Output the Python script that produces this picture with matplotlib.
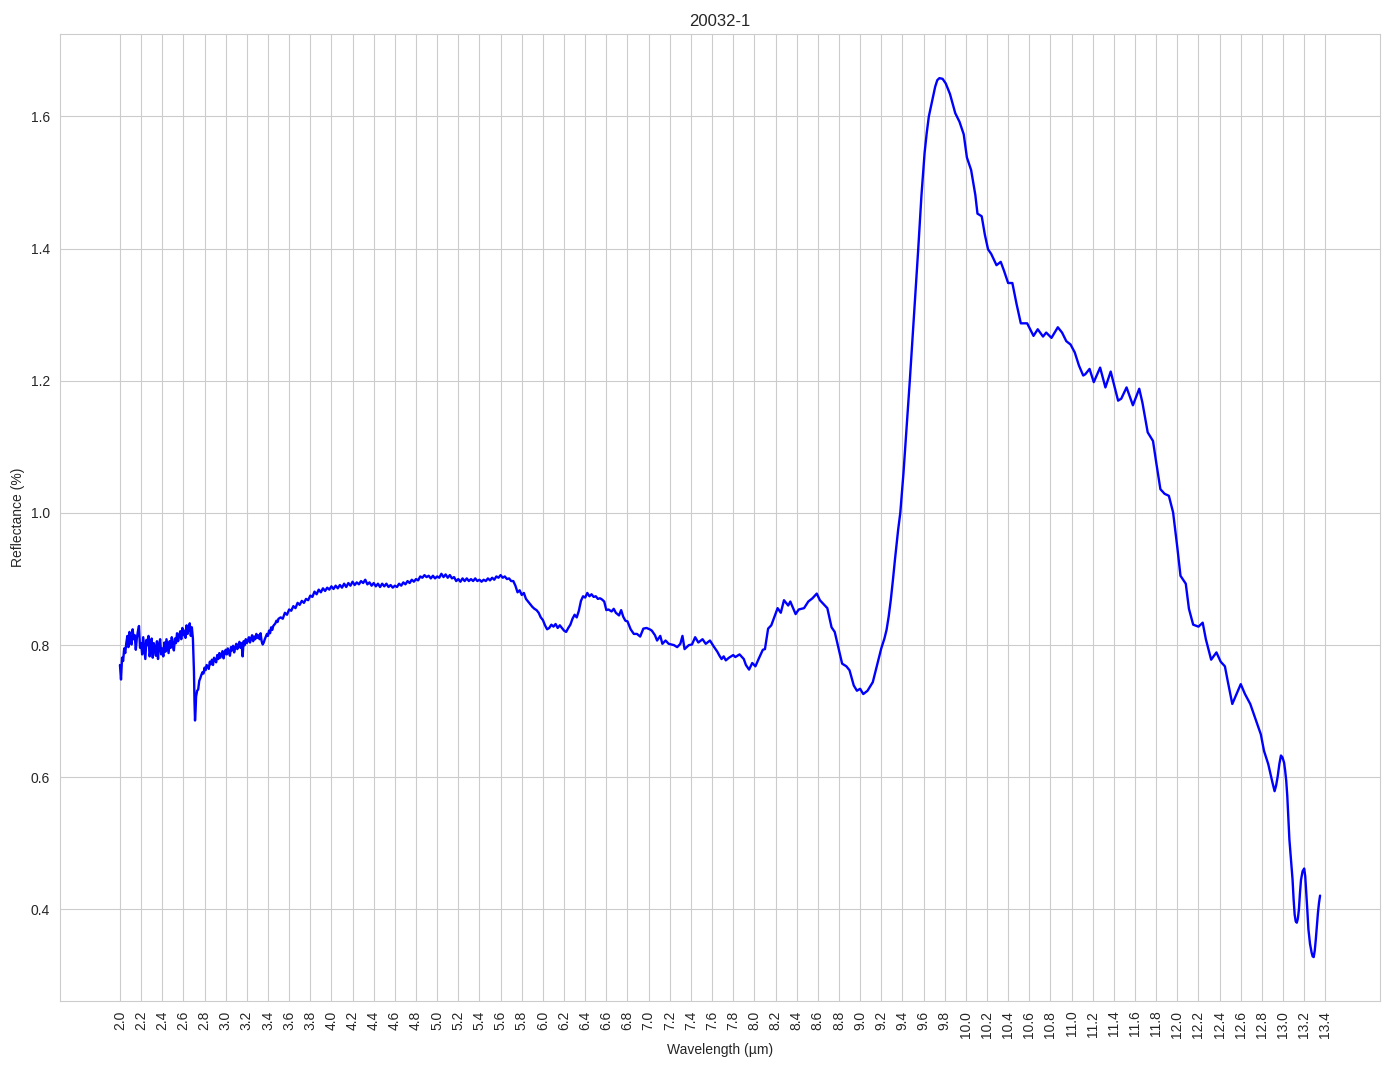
import numpy as np
import matplotlib
matplotlib.use("Agg")
import matplotlib.pyplot as plt
import seaborn as sns

# ---------------- data ----------------
title = "20032-1"
x_label = "Wavelength (µm)"
y_label = "Reflectance (%)"

# noisy part 2.00 - 2.70 µm, sampled every 0.01 µm
seg1_start, seg1_step = 2.00, 0.01
seg1_refl = [
    0.770, 0.748, 0.781, 0.776, 0.795, 0.788, 0.803, 0.814, 0.797, 0.820,
    0.806, 0.801, 0.824, 0.809, 0.815, 0.793, 0.811, 0.821, 0.829, 0.796,
    0.803, 0.786, 0.812, 0.795, 0.779, 0.808, 0.800, 0.814, 0.783, 0.792,
    0.810, 0.781, 0.803, 0.797, 0.784, 0.806, 0.779, 0.800, 0.809, 0.786,
    0.795, 0.783, 0.804, 0.790, 0.809, 0.799, 0.788, 0.806, 0.796, 0.812,
    0.800, 0.792, 0.810, 0.803, 0.818, 0.806, 0.814, 0.821, 0.809, 0.826,
    0.815, 0.822, 0.811, 0.830, 0.817, 0.826, 0.833, 0.814, 0.827, 0.810,
    0.760,
]

# absorption dip
seg2_wl = [2.705, 2.71, 2.715]
seg2_refl = [0.715, 0.686, 0.700]

# 2.72 - 3.50 µm, sampled every 0.01 µm
seg3_start, seg3_step = 2.72, 0.01
seg3_refl = [
    0.722, 0.731, 0.733, 0.746, 0.750, 0.755, 0.759, 0.757, 0.766, 0.762,
    0.770, 0.767, 0.764, 0.775, 0.771, 0.778, 0.770, 0.781, 0.777, 0.774,
    0.785, 0.779, 0.788, 0.781, 0.786, 0.791, 0.780, 0.789, 0.793, 0.786,
    0.795, 0.790, 0.784, 0.797, 0.792, 0.799, 0.789, 0.796, 0.802, 0.794,
    0.800, 0.805, 0.796, 0.803, 0.783, 0.806, 0.800, 0.809, 0.803, 0.807,
    0.812, 0.804, 0.810, 0.815, 0.806, 0.813, 0.809, 0.817, 0.811, 0.815,
    0.809, 0.818, 0.806, 0.801, 0.804, 0.809, 0.813, 0.817, 0.814, 0.822,
    0.818, 0.827, 0.823, 0.829, 0.831, 0.833, 0.837, 0.835, 0.840,
]

# 3.52 - 6.60 µm, sampled every 0.02 µm
seg4_start, seg4_step = 3.52, 0.02
seg4_refl = [
    0.842, 0.840, 0.849, 0.846, 0.854, 0.852, 0.859, 0.856, 0.864, 0.861,
    0.867, 0.864, 0.870, 0.868, 0.875, 0.873, 0.881, 0.877, 0.884, 0.880,
    0.886, 0.882, 0.887, 0.884, 0.889, 0.885, 0.890, 0.886, 0.891, 0.887,
    0.893, 0.888, 0.894, 0.890, 0.896, 0.891, 0.895, 0.892, 0.897, 0.894,
    0.899, 0.892, 0.895, 0.890, 0.894, 0.889, 0.893, 0.888, 0.893, 0.889,
    0.893, 0.888, 0.891, 0.887, 0.890, 0.888, 0.893, 0.890, 0.895, 0.892,
    0.897, 0.894, 0.899, 0.896, 0.900, 0.898, 0.904, 0.902, 0.906, 0.903,
    0.905, 0.901, 0.905, 0.901, 0.904, 0.902, 0.908, 0.903, 0.907, 0.902,
    0.906, 0.901, 0.903, 0.897, 0.900, 0.896, 0.901, 0.897, 0.901, 0.897,
    0.900, 0.897, 0.901, 0.897, 0.899, 0.896, 0.899, 0.897, 0.901, 0.898,
    0.902, 0.899, 0.904, 0.902, 0.906, 0.902, 0.904, 0.900, 0.901, 0.897,
    0.897, 0.890, 0.880, 0.883, 0.876, 0.879, 0.870, 0.866, 0.862, 0.858,
    0.855, 0.853, 0.849, 0.842, 0.838, 0.830, 0.824, 0.826, 0.831, 0.828,
    0.832, 0.826, 0.830, 0.826, 0.822, 0.820, 0.826, 0.831, 0.840, 0.846,
    0.842, 0.852, 0.867, 0.874, 0.872, 0.879, 0.874, 0.877, 0.873, 0.874,
    0.870, 0.871, 0.869, 0.866, 0.853,
]

# smoother part 6.62 - 13.35 µm
seg5_wl = [
    6.62, 6.65, 6.67, 6.69, 6.72, 6.74, 6.76, 6.78, 6.80, 6.83,
    6.86, 6.89, 6.92, 6.95, 6.98, 7.01, 7.03, 7.06, 7.08, 7.11,
    7.13, 7.16, 7.19, 7.24, 7.27, 7.30, 7.32, 7.34, 7.38, 7.41,
    7.44, 7.47, 7.51, 7.54, 7.58, 7.62, 7.65, 7.67, 7.69, 7.71,
    7.73, 7.76, 7.80, 7.82, 7.86, 7.90, 7.92, 7.95, 7.98, 8.01,
    8.04, 8.08, 8.10, 8.13, 8.16, 8.22, 8.25, 8.28, 8.32, 8.34,
    8.39, 8.42, 8.47, 8.51, 8.55, 8.59, 8.62, 8.69, 8.73, 8.76,
    8.83, 8.87, 8.90, 8.94, 8.97, 9.00, 9.03, 9.07, 9.12, 9.17,
    9.20, 9.23, 9.25, 9.27, 9.29, 9.31, 9.33, 9.36, 9.38, 9.41,
    9.44, 9.47, 9.51, 9.55, 9.58, 9.61, 9.63, 9.65, 9.67, 9.69,
    9.71, 9.73, 9.75, 9.78, 9.81, 9.85, 9.90, 9.94, 9.98, 10.01,
    10.05, 10.09, 10.11, 10.15, 10.18, 10.21, 10.24, 10.29, 10.33, 10.36,
    10.40, 10.44, 10.48, 10.52, 10.58, 10.64, 10.68, 10.73, 10.76, 10.81,
    10.87, 10.91, 10.95, 10.99, 11.03, 11.07, 11.11, 11.13, 11.17, 11.21,
    11.27, 11.32, 11.37, 11.44, 11.47, 11.52, 11.58, 11.64, 11.67, 11.72,
    11.77, 11.80, 11.84, 11.88, 11.92, 11.96, 12.00, 12.03, 12.08, 12.11,
    12.15, 12.20, 12.24, 12.27, 12.32, 12.37, 12.41, 12.45, 12.48, 12.52,
    12.56, 12.60, 12.64, 12.69, 12.74, 12.79, 12.82, 12.86, 12.90, 12.92,
    12.935, 12.95, 12.965, 12.98, 12.995, 13.01, 13.02, 13.03, 13.04, 13.05,
    13.06, 13.08, 13.09, 13.10, 13.11, 13.12, 13.13, 13.14, 13.15, 13.16,
    13.17, 13.185, 13.20, 13.21, 13.22, 13.23, 13.24, 13.255, 13.27, 13.28,
    13.29, 13.30, 13.31, 13.32, 13.33, 13.34, 13.35,
]
seg5_refl = [
    0.854, 0.851, 0.855, 0.849, 0.845, 0.853, 0.843, 0.837, 0.836, 0.824,
    0.817, 0.817, 0.813, 0.825, 0.826, 0.824, 0.822, 0.815, 0.807, 0.814,
    0.802, 0.807, 0.802, 0.800, 0.797, 0.802, 0.814, 0.794, 0.800, 0.801,
    0.812, 0.804, 0.809, 0.802, 0.807, 0.797, 0.790, 0.784, 0.779, 0.783,
    0.777, 0.781, 0.785, 0.782, 0.786, 0.779, 0.770, 0.763, 0.773, 0.768,
    0.779, 0.793, 0.794, 0.825, 0.830, 0.856, 0.849, 0.868, 0.860, 0.866,
    0.847, 0.854, 0.856, 0.866, 0.871, 0.878, 0.868, 0.856, 0.827, 0.820,
    0.772, 0.768, 0.762, 0.739, 0.731, 0.734, 0.726, 0.731, 0.744, 0.776,
    0.795, 0.810, 0.823, 0.843, 0.868, 0.898, 0.930, 0.975, 1.000, 1.060,
    1.130, 1.200, 1.300, 1.400, 1.480, 1.545, 1.575, 1.600, 1.615, 1.630,
    1.645, 1.655, 1.658, 1.657, 1.650, 1.634, 1.605, 1.592, 1.573, 1.538,
    1.519, 1.481, 1.453, 1.449, 1.421, 1.399, 1.392, 1.375, 1.380, 1.367,
    1.348, 1.348, 1.316, 1.287, 1.287, 1.268, 1.278, 1.267, 1.273, 1.265,
    1.281, 1.273, 1.260, 1.255, 1.243, 1.223, 1.208, 1.210, 1.218, 1.198,
    1.220, 1.190, 1.214, 1.170, 1.173, 1.190, 1.163, 1.188, 1.167, 1.122,
    1.109, 1.077, 1.036, 1.029, 1.026, 1.001, 0.948, 0.905, 0.893, 0.855,
    0.831, 0.828, 0.834, 0.809, 0.778, 0.789, 0.775, 0.768, 0.743, 0.711,
    0.726, 0.741, 0.726, 0.711, 0.688, 0.665, 0.640, 0.620, 0.592, 0.579,
    0.588, 0.602, 0.620, 0.633, 0.630, 0.622, 0.610, 0.595, 0.572, 0.540,
    0.506, 0.465, 0.445, 0.415, 0.392, 0.382, 0.380, 0.386, 0.400, 0.425,
    0.445, 0.458, 0.462, 0.450, 0.425, 0.398, 0.370, 0.348, 0.335, 0.329,
    0.328, 0.338, 0.355, 0.375, 0.395, 0.410, 0.421,
]

tick_values = [round(2.0 + 0.2 * i, 1) for i in range(58)]
tick_labels = [f"{v:.1f}" for v in tick_values]

# ---------------- assemble ----------------
def sampled(start, step, vals):
    return [round(start + step * i, 3) for i in range(len(vals))]

wavelength = (sampled(seg1_start, seg1_step, seg1_refl) + seg2_wl
              + sampled(seg3_start, seg3_step, seg3_refl)
              + sampled(seg4_start, seg4_step, seg4_refl) + seg5_wl)
reflectance = seg1_refl + seg2_refl + seg3_refl + seg4_refl + seg5_refl
assert len(wavelength) == len(reflectance)

# ---------------- plot ----------------
sns.set_style("whitegrid")
plt.rcParams["font.family"] = ["Liberation Sans", "DejaVu Sans"]

fig, ax = plt.subplots(figsize=(13.94, 10.69), dpi=100)
fig.subplots_adjust(left=0.043, right=0.99, top=0.968, bottom=0.0636)

ax.plot(wavelength, reflectance, color="blue", linewidth=1.7)
ax.set_xticks(tick_values)
ax.set_xticklabels(tick_labels, rotation=90)
ax.set_title(title, fontsize=12)
ax.set_xlabel(x_label, fontsize=10)
ax.set_ylabel(y_label, fontsize=10)
ax.tick_params(labelsize=10)

fig.savefig("out.png", dpi=100)
